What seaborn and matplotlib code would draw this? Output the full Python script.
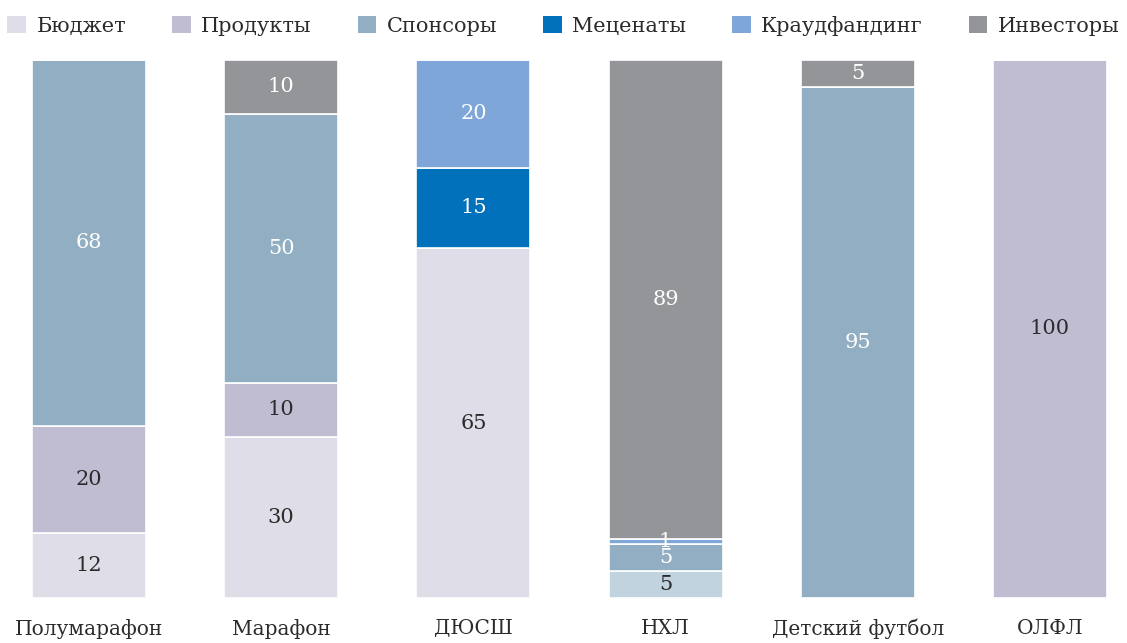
"""
Stacked bar chart: funding sources by project (shares, %).
"""

import matplotlib
matplotlib.use("Agg")
import matplotlib.pyplot as plt
from matplotlib.patches import Patch
import numpy as np
import pandas as pd
import seaborn as sns

categories = ["Полумарафон", "Марафон", "ДЮСШ", "НХЛ", "Детский футбол", "ОЛФЛ"]

# series values, bottom to top
budget = [12, 30, 65, 0, 0, 0]
other = [0, 0, 0, 5, 0, 0]          # light segment at the base of НХЛ, no legend entry
products = [20, 10, 0, 0, 0, 100]
sponsors = [68, 50, 0, 5, 95, 0]
patrons = [0, 0, 15, 0, 0, 0]
crowdfunding = [0, 0, 20, 1, 0, 0]
investors = [0, 10, 0, 89, 5, 0]

series = [
    ("Бюджет", budget, "#dedde8", "#2b2b2b", True),
    ("Прочее", other, "#c2d3e0", "#2b2b2b", False),
    ("Продукты", products, "#c0bcd2", "#2b2b2b", True),
    ("Спонсоры", sponsors, "#91aec3", "white", True),
    ("Меценаты", patrons, "#0071ba", "white", True),
    ("Краудфандинг", crowdfunding, "#7ea6d8", "white", True),
    ("Инвесторы", investors, "#939598", "white", True),
]
legend_order = ["Бюджет", "Продукты", "Спонсоры", "Меценаты", "Краудфандинг", "Инвесторы"]

sns.set_theme(style="white")
plt.rcParams["font.family"] = ["DejaVu Serif"]

fig = plt.figure(figsize=(11.27, 6.43), dpi=100)
# 0 sits at y=598 px and 100 at y=60 px
ax = fig.add_axes([32 / 1127, (643 - 598) / 643, (1107 - 32) / 1127, (598 - 60) / 643])

bottom = np.zeros(len(categories))
handles = {}
for name, vals, color, txt_color, in_legend in series:
    df = pd.DataFrame({"cat": categories, "val": vals})
    sns.barplot(data=df, x="cat", y="val", order=categories, bottom=bottom,
                color=color, saturation=1, width=0.594, errorbar=None,
                edgecolor="white", linewidth=1.2, ax=ax)
    for i, v in enumerate(vals):
        if v > 0:
            ax.text(i, bottom[i] + v / 2, str(v), ha="center", va="center",
                    color=txt_color, fontsize=15)
    if in_legend:
        handles[name] = Patch(facecolor=color, edgecolor="none")
    bottom = bottom + np.array(vals)

ax.set_xlim(-0.297, 5.297)
ax.set_ylim(0, 100)
ax.set_xlabel("")
ax.set_ylabel("")
ax.set_yticks([])
ax.tick_params(axis="x", length=0, pad=15, labelsize=14.5, labelcolor="#2b2b2b")
sns.despine(ax=ax, left=True, bottom=True)

fig.legend([handles[n] for n in legend_order], legend_order,
           loc="center", bbox_to_anchor=(0.5, 1 - 26 / 643), ncol=6,
           frameon=False, fontsize=15, handlelength=0.9, handleheight=0.9,
           handletextpad=0.5, columnspacing=2.2, labelcolor="#2b2b2b")

fig.savefig("out.png", dpi=100)
plt.close(fig)
